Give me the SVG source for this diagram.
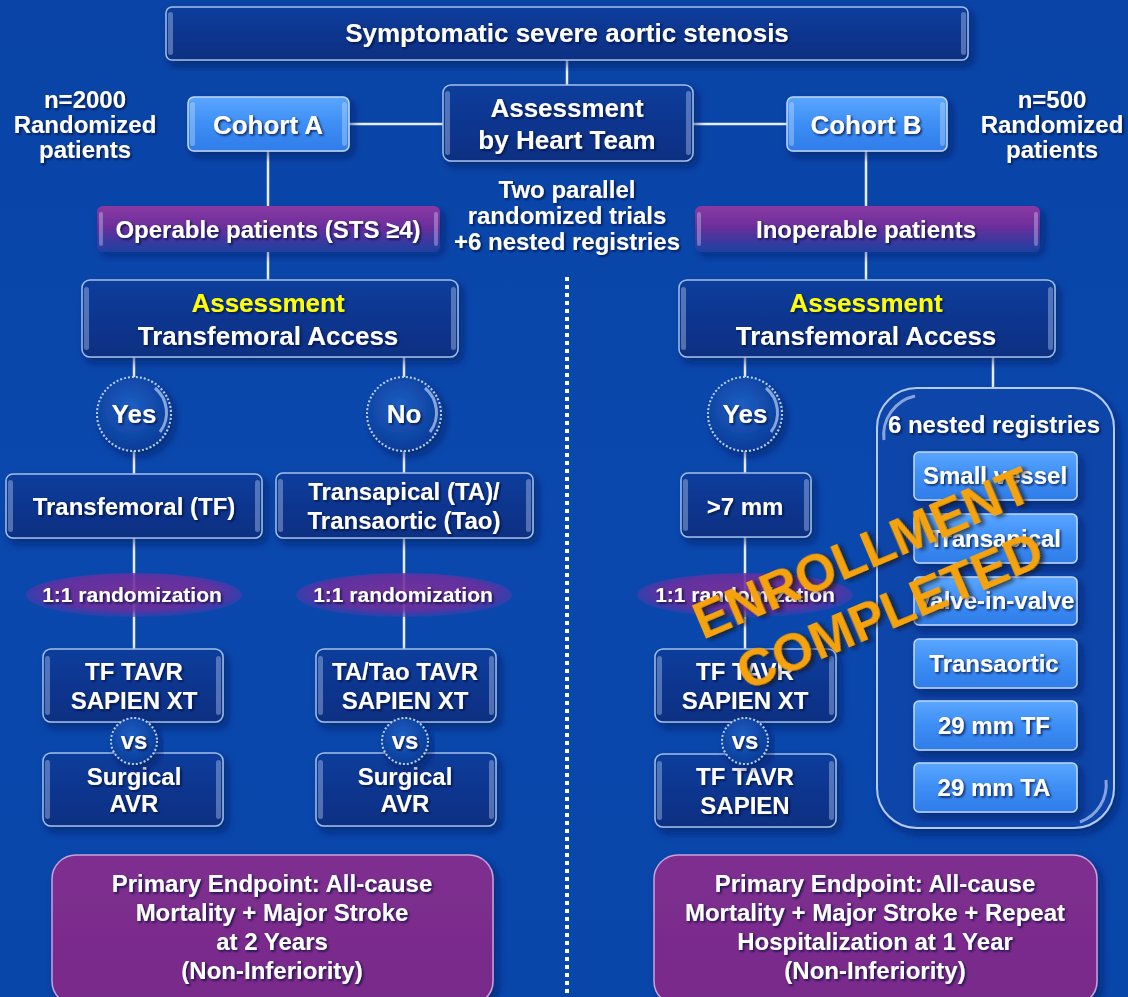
<svg xmlns="http://www.w3.org/2000/svg" width="1128" height="997" viewBox="0 0 1128 997">
<defs>
<linearGradient id="bg" x1="0" y1="0" x2="0" y2="1"><stop offset="0" stop-color="#0944a6"/><stop offset="0.5" stop-color="#0a48ad"/><stop offset="1" stop-color="#0846aa"/></linearGradient>
<linearGradient id="gBox" x1="0" y1="0" x2="0" y2="1"><stop offset="0" stop-color="#0d3d9c"/><stop offset="1" stop-color="#072f82"/></linearGradient>
<linearGradient id="gLight" x1="0" y1="0" x2="0" y2="1"><stop offset="0" stop-color="#5aa6ff"/><stop offset="0.5" stop-color="#3d8ef5"/><stop offset="1" stop-color="#2f7ce8"/></linearGradient>
<linearGradient id="gPill" x1="0" y1="0" x2="0" y2="1"><stop offset="0" stop-color="#8a3aa2"/><stop offset="0.45" stop-color="#6c2e9c"/><stop offset="1" stop-color="#2c42aa" stop-opacity="0.6"/></linearGradient>
<radialGradient id="gEll" cx="0.5" cy="0.45" r="0.55"><stop offset="0" stop-color="#7e2e98"/><stop offset="0.7" stop-color="#6a2f9e"/><stop offset="1" stop-color="#3e3fb0" stop-opacity="0.6"/></radialGradient>
<radialGradient id="gCirc" cx="0.45" cy="0.4" r="0.6"><stop offset="0" stop-color="#1d5fc4"/><stop offset="1" stop-color="#0a3c98"/></radialGradient>
<linearGradient id="gEnd" x1="0" y1="0" x2="0" y2="1"><stop offset="0" stop-color="#7e2f8f"/><stop offset="1" stop-color="#78298a"/></linearGradient>
<filter id="sh" x="-10%" y="-10%" width="125%" height="130%"><feDropShadow dx="4" dy="5" stdDeviation="4" flood-color="#001850" flood-opacity="0.55"/></filter>
<filter id="ts" x="-5%" y="-20%" width="115%" height="150%"><feDropShadow dx="1.5" dy="1.5" stdDeviation="0.8" flood-color="#00103a" flood-opacity="0.85"/></filter>
<filter id="ss" x="-10%" y="-30%" width="125%" height="160%"><feDropShadow dx="3" dy="3" stdDeviation="2" flood-color="#1a1000" flood-opacity="0.7"/></filter>
<style>
.box{fill:url(#gBox);stroke:#a3bfe9;stroke-width:1.5;filter:url(#sh)}
.lt{fill:url(#gLight);stroke:#c0d8ff;stroke-width:1.5;filter:url(#sh)}
.pill{fill:url(#gPill);filter:url(#sh)}
.ell{fill:url(#gEll)}
.circ{fill:url(#gCirc);stroke:#b9cff2;stroke-width:2;stroke-dasharray:2 2;filter:url(#sh)}
.hl{fill:none;stroke:#d8e6ff;stroke-width:3;opacity:.6}
.end{fill:url(#gEnd);stroke:#c9a0dc;stroke-width:1.5;filter:url(#sh)}
.reg{fill:#0a45a8;stroke:#b3cbf2;stroke-width:2;filter:url(#sh)}
.bar{fill:#d4e4ff;opacity:.35}
.t{font-family:"Liberation Sans",Arial,Helvetica,sans-serif;font-weight:bold;fill:#ffffff;text-anchor:middle;filter:url(#ts)}
.y{fill:#ffff00}
.f26{font-size:26px}.f24{font-size:24px}.f21{font-size:21px}
.ln{stroke:#e8eff9;stroke-width:2.5;fill:none}
.dot{stroke:#ffffff;stroke-width:4;stroke-dasharray:4 4;fill:none}
.stamp{font-family:"Liberation Sans",Arial,Helvetica,sans-serif;font-weight:bold;font-size:52px;fill:#f6a208;text-anchor:middle;filter:url(#ss)}
</style>
</defs>
<rect x="0" y="0" width="1128" height="997" fill="url(#bg)"/>

<g id="connectors">
<line class="ln" x1="567" y1="60" x2="567" y2="85"/>
<line class="ln" x1="349" y1="124" x2="443" y2="124"/>
<line class="ln" x1="693" y1="124" x2="787" y2="124"/>
<line class="ln" x1="268" y1="151" x2="268" y2="206"/>
<line class="ln" x1="268" y1="252" x2="268" y2="280"/>
<line class="ln" x1="866" y1="151" x2="866" y2="206"/>
<line class="ln" x1="866" y1="252" x2="866" y2="280"/>
<line class="ln" x1="134" y1="357" x2="134" y2="378"/>
<line class="ln" x1="404" y1="357" x2="404" y2="378"/>
<line class="ln" x1="134" y1="451" x2="134" y2="474"/>
<line class="ln" x1="404" y1="451" x2="404" y2="473"/>
<line class="ln" x1="134" y1="538" x2="134" y2="650"/>
<line class="ln" x1="404" y1="538" x2="404" y2="650"/>
<line class="ln" x1="745" y1="357" x2="745" y2="378"/>
<line class="ln" x1="993" y1="357" x2="993" y2="388"/>
<line class="ln" x1="745" y1="451" x2="745" y2="473"/>
<line class="ln" x1="745" y1="537" x2="745" y2="650"/>
<line class="dot" x1="567" y1="277" x2="567" y2="997"/>
</g>

<g id="top">
<rect class="box" x="166" y="7" width="802" height="53" rx="6"/>
<rect class="bar" x="168" y="12" width="5" height="43" rx="2.5"/>
<rect class="bar" x="961" y="12" width="5" height="43" rx="2.5"/>
<text class="t f26" x="567" y="42">Symptomatic severe aortic stenosis</text>
</g>

<g id="heartteam">
<rect class="box" x="443" y="85" width="250" height="76" rx="8"/>
<rect class="bar" x="445" y="91" width="5" height="64" rx="2.5"/>
<rect class="bar" x="686" y="91" width="5" height="64" rx="2.5"/>
<text class="t f26" x="567" y="117">Assessment</text>
<text class="t f26" x="567" y="149">by Heart Team</text>
</g>

<g id="cohortA">
<rect class="lt" x="188" y="97" width="161" height="54" rx="6"/>
<rect class="bar" x="190" y="102" width="5" height="44" rx="2.5"/>
<rect class="bar" x="342" y="102" width="5" height="44" rx="2.5"/>
<text class="t f26" x="268" y="134">Cohort A</text>
</g>

<g id="cohortB">
<rect class="lt" x="787" y="97" width="160" height="54" rx="6"/>
<rect class="bar" x="789" y="102" width="5" height="44" rx="2.5"/>
<rect class="bar" x="940" y="102" width="5" height="44" rx="2.5"/>
<text class="t f26" x="866" y="134">Cohort B</text>
</g>

<g id="nA">
<text class="t f24" x="85" y="108">n=2000</text>
<text class="t f24" x="85" y="133">Randomized</text>
<text class="t f24" x="85" y="158">patients</text>
</g>
<g id="nB">
<text class="t f24" x="1052" y="108">n=500</text>
<text class="t f24" x="1052" y="133">Randomized</text>
<text class="t f24" x="1052" y="158">patients</text>
</g>

<g id="parallel">
<text class="t f24" x="567" y="198">Two parallel</text>
<text class="t f24" x="567" y="224">randomized trials</text>
<text class="t f24" x="567" y="250">+6 nested registries</text>
</g>

<g id="operable">
<rect class="pill" x="97" y="206" width="343" height="46" rx="6"/>
<rect class="bar" x="99" y="212" width="4" height="34" rx="2"/>
<rect class="bar" x="434" y="212" width="4" height="34" rx="2"/>
<text class="t f24" x="268" y="238">Operable patients (STS ≥4)</text>
</g>

<g id="inoperable">
<rect class="pill" x="695" y="206" width="345" height="46" rx="6"/>
<rect class="bar" x="697" y="212" width="4" height="34" rx="2"/>
<rect class="bar" x="1034" y="212" width="4" height="34" rx="2"/>
<text class="t f24" x="866" y="238">Inoperable patients</text>
</g>

<g id="assessA">
<rect class="box" x="82" y="280" width="376" height="77" rx="8"/>
<rect class="bar" x="84" y="287" width="5" height="63" rx="2.5"/>
<rect class="bar" x="451" y="287" width="5" height="63" rx="2.5"/>
<text class="t f26 y" x="268" y="312">Assessment</text>
<text class="t f26" x="268" y="345">Transfemoral Access</text>
</g>

<g id="assessB">
<rect class="box" x="679" y="280" width="376" height="77" rx="8"/>
<rect class="bar" x="681" y="287" width="5" height="63" rx="2.5"/>
<rect class="bar" x="1048" y="287" width="5" height="63" rx="2.5"/>
<text class="t f26 y" x="866" y="312">Assessment</text>
<text class="t f26" x="866" y="345">Transfemoral Access</text>
</g>

<g id="yesA">
<circle class="circ" cx="134" cy="414" r="37"/>
<path class="hl" d="M155 388 A32 32 0 0 1 160 432"/>
<text class="t f26" x="134" y="423">Yes</text>
</g>
<g id="noA">
<circle class="circ" cx="404" cy="414" r="37"/>
<path class="hl" d="M425 388 A32 32 0 0 1 430 432"/>
<text class="t f26" x="404" y="423">No</text>
</g>
<g id="yesB">
<circle class="circ" cx="745" cy="414" r="37"/>
<path class="hl" d="M766 388 A32 32 0 0 1 771 432"/>
<text class="t f26" x="745" y="423">Yes</text>
</g>

<g id="tf">
<rect class="box" x="6" y="474" width="256" height="64" rx="7"/>
<rect class="bar" x="8" y="480" width="5" height="52" rx="2.5"/>
<rect class="bar" x="255" y="480" width="5" height="52" rx="2.5"/>
<text class="t f24" x="134" y="515">Transfemoral (TF)</text>
</g>
<g id="ta">
<rect class="box" x="276" y="473" width="257" height="65" rx="7"/>
<rect class="bar" x="278" y="479" width="5" height="53" rx="2.5"/>
<rect class="bar" x="526" y="479" width="5" height="53" rx="2.5"/>
<text class="t f24" x="404" y="500">Transapical (TA)/</text>
<text class="t f24" x="404" y="529">Transaortic (Tao)</text>
</g>
<g id="gt7">
<rect class="box" x="681" y="473" width="130" height="64" rx="7"/>
<rect class="bar" x="683" y="479" width="5" height="52" rx="2.5"/>
<rect class="bar" x="804" y="479" width="5" height="52" rx="2.5"/>
<text class="t f24" x="745" y="515">&gt;7 mm</text>
</g>

<g id="randA">
<ellipse class="ell" cx="134" cy="595" rx="108" ry="22" opacity="0.9"/>
<text class="t f21" x="132" y="602">1:1 randomization</text>
</g>
<g id="randTA">
<ellipse class="ell" cx="404" cy="595" rx="108" ry="22" opacity="0.9"/>
<text class="t f21" x="403" y="602">1:1 randomization</text>
</g>
<g id="randB">
<ellipse class="ell" cx="745" cy="595" rx="108" ry="22" opacity="0.9"/>
<text class="t f21" x="745" y="602">1:1 randomization</text>
</g>

<g id="tfTavrA">
<rect class="box" x="43" y="649" width="180" height="73" rx="8"/>
<rect class="bar" x="45" y="656" width="5" height="59" rx="2.5"/>
<rect class="bar" x="216" y="656" width="5" height="59" rx="2.5"/>
<text class="t f24" x="134" y="680">TF TAVR</text>
<text class="t f24" x="134" y="709">SAPIEN XT</text>
</g>
<g id="surgA">
<rect class="box" x="43" y="753" width="180" height="73" rx="8"/>
<rect class="bar" x="45" y="760" width="5" height="59" rx="2.5"/>
<rect class="bar" x="216" y="760" width="5" height="59" rx="2.5"/>
<text class="t f24" x="134" y="785">Surgical</text>
<text class="t f24" x="134" y="812">AVR</text>
</g>
<g id="vsA">
<circle class="circ" cx="134" cy="741" r="23"/>
<text class="t f24" x="134" y="749">vs</text>
</g>

<g id="taTavr">
<rect class="box" x="316" y="649" width="180" height="73" rx="8"/>
<rect class="bar" x="318" y="656" width="5" height="59" rx="2.5"/>
<rect class="bar" x="489" y="656" width="5" height="59" rx="2.5"/>
<text class="t f24" x="405" y="680">TA/Tao TAVR</text>
<text class="t f24" x="405" y="709">SAPIEN XT</text>
</g>
<g id="surgTA">
<rect class="box" x="316" y="753" width="180" height="73" rx="8"/>
<rect class="bar" x="318" y="760" width="5" height="59" rx="2.5"/>
<rect class="bar" x="489" y="760" width="5" height="59" rx="2.5"/>
<text class="t f24" x="405" y="785">Surgical</text>
<text class="t f24" x="405" y="812">AVR</text>
</g>
<g id="vsTA">
<circle class="circ" cx="405" cy="741" r="23"/>
<text class="t f24" x="405" y="749">vs</text>
</g>

<g id="tfTavrB">
<rect class="box" x="655" y="649" width="181" height="73" rx="8"/>
<rect class="bar" x="657" y="656" width="5" height="59" rx="2.5"/>
<rect class="bar" x="829" y="656" width="5" height="59" rx="2.5"/>
<text class="t f24" x="745" y="680">TF TAVR</text>
<text class="t f24" x="745" y="709">SAPIEN XT</text>
</g>
<g id="sapienB">
<rect class="box" x="655" y="754" width="181" height="73" rx="8"/>
<rect class="bar" x="657" y="761" width="5" height="59" rx="2.5"/>
<rect class="bar" x="829" y="761" width="5" height="59" rx="2.5"/>
<text class="t f24" x="745" y="785">TF TAVR</text>
<text class="t f24" x="745" y="814">SAPIEN</text>
</g>
<g id="vsB">
<circle class="circ" cx="745" cy="741" r="23"/>
<text class="t f24" x="745" y="749">vs</text>
</g>

<g id="registries">
<rect class="reg" x="877" y="388" width="237" height="440" rx="40"/>
<path class="hl" d="M884 440 A40 40 0 0 1 915 396"/>
<path class="hl" d="M1106 780 A40 40 0 0 1 1080 822"/>
<text class="t f24" x="994" y="433">6 nested registries</text>
<g id="reg1"><rect class="lt" x="914" y="452" width="163" height="48" rx="5"/><text class="t f24" x="995" y="484">Small vessel</text></g>
<g id="reg2"><rect class="lt" x="914" y="514" width="163" height="49" rx="5"/><text class="t f24" x="995" y="547">Transapical</text></g>
<g id="reg3"><rect class="lt" x="914" y="577" width="163" height="48" rx="5"/><text class="t f24" x="995" y="609">Valve-in-valve</text></g>
<g id="reg4"><rect class="lt" x="914" y="639" width="163" height="49" rx="5"/><text class="t f24" x="994" y="672">Transaortic</text></g>
<g id="reg5"><rect class="lt" x="914" y="701" width="163" height="49" rx="5"/><text class="t f24" x="994" y="734">29 mm TF</text></g>
<g id="reg6"><rect class="lt" x="914" y="763" width="163" height="49" rx="5"/><text class="t f24" x="994" y="796">29 mm TA</text></g>
</g>

<g id="endpointA">
<rect class="end" x="52" y="855" width="441" height="150" rx="24"/>
<text class="t f24" x="272" y="892">Primary Endpoint: All-cause</text>
<text class="t f24" x="272" y="921">Mortality + Major Stroke</text>
<text class="t f24" x="272" y="950">at 2 Years</text>
<text class="t f24" x="272" y="979">(Non-Inferiority)</text>
</g>
<g id="endpointB">
<rect class="end" x="654" y="855" width="443" height="150" rx="24"/>
<text class="t f24" x="875" y="892">Primary Endpoint: All-cause</text>
<text class="t f24" x="875" y="921">Mortality + Major Stroke + Repeat</text>
<text class="t f24" x="875" y="950">Hospitalization at 1 Year</text>
<text class="t f24" x="875" y="979">(Non-Inferiority)</text>
</g>

<g id="stamp" transform="translate(875,581) rotate(-23)">
<text class="stamp" x="-1" y="-13">ENROLLMENT</text>
<text class="stamp" x="2" y="51">COMPLETED</text>
</g>
</svg>
